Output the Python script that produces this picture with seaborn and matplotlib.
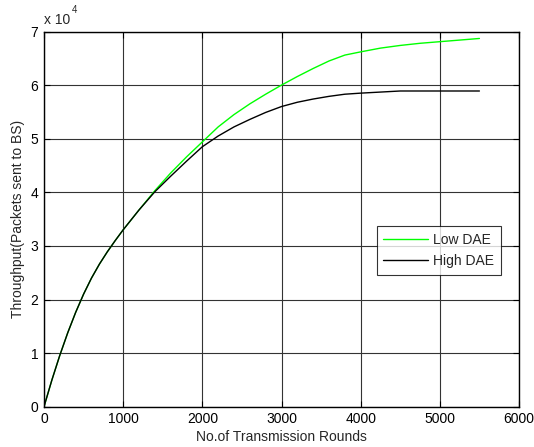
import matplotlib
matplotlib.use("Agg")
import matplotlib.pyplot as plt
import seaborn as sns
import pandas as pd

# Data (throughput in units of 10^4 packets)
rounds = [0, 100, 200, 300, 400, 500, 600, 700, 800, 900, 1000, 1200, 1400,
          1600, 1800, 2000, 2200, 2400, 2600, 2800, 3000, 3200, 3400, 3600,
          3800, 4000, 4250, 4500, 4750, 5000, 5250, 5500]
low_dae = [0, 0.50, 0.96, 1.38, 1.76, 2.10, 2.40, 2.66, 2.89, 3.10, 3.30, 3.67, 4.03,
           4.36, 4.66, 4.94, 5.22, 5.45, 5.65, 5.83, 6.00, 6.16, 6.31, 6.45,
           6.56, 6.62, 6.69, 6.74, 6.78, 6.81, 6.84, 6.87]
high_dae = [0, 0.50, 0.96, 1.38, 1.76, 2.10, 2.40, 2.66, 2.89, 3.10, 3.30, 3.67, 4.01,
            4.30, 4.58, 4.85, 5.05, 5.22, 5.36, 5.49, 5.60, 5.68, 5.74, 5.79,
            5.83, 5.85, 5.87, 5.89, 5.89, 5.89, 5.89, 5.89]
series_names = ["Low DAE", "High DAE"]
x_ticks = [0, 1000, 2000, 3000, 4000, 5000, 6000]
y_ticks = [0, 1, 2, 3, 4, 5, 6, 7]

df = pd.concat([
    pd.DataFrame({"Rounds": rounds, "Throughput": low_dae, "Series": series_names[0]}),
    pd.DataFrame({"Rounds": rounds, "Throughput": high_dae, "Series": series_names[1]}),
])

sns.set_style("white")
plt.rcParams["font.family"] = ["Liberation Sans", "DejaVu Sans"]

fig = plt.figure(figsize=(5.34, 4.47), dpi=100)
ax = fig.add_axes([44 / 534, 1 - 406.7 / 447, 475 / 534, 375.2 / 447])

sns.lineplot(data=df, x="Rounds", y="Throughput", hue="Series",
             palette={"Low DAE": "#00ff00", "High DAE": "#000000"},
             hue_order=series_names, linewidth=1.0, ax=ax, legend=True)

ax.set_xlim(0, 6000)
ax.set_ylim(0, 7)
ax.set_xticks(x_ticks)
ax.set_yticks(y_ticks)
ax.set_xticklabels([str(t) for t in x_ticks], fontsize=10)
ax.set_yticklabels([str(t) for t in y_ticks], fontsize=10)
ax.grid(True, color="#333333", linewidth=0.8)
ax.set_axisbelow(True)
for s in ax.spines.values():
    s.set_visible(True)
    s.set_color("black")
    s.set_linewidth(1.0)
ax.tick_params(direction="in", length=4, width=0.8, top=True, right=True,
               bottom=True, left=True, pad=4, colors="black")
ax.set_xlabel("No.of Transmission Rounds", fontsize=10, labelpad=3)
ax.set_ylabel("Throughput(Packets sent to BS)", fontsize=10, labelpad=4)

ax.text(0.0, 1.012, "x 10", transform=ax.transAxes, fontsize=10, ha="left", va="bottom")
ax.text(0.058, 1.045, "4", transform=ax.transAxes, fontsize=7, ha="left", va="bottom")

leg = ax.legend(loc="upper left", bbox_to_anchor=(0.700, 0.4816), borderaxespad=0,
                fontsize=10, frameon=True, fancybox=False, edgecolor="black",
                handlelength=3.2, handletextpad=0.4, borderpad=0.5, labelspacing=0.5)
leg.get_frame().set_linewidth(0.8)
leg.set_title(None)

fig.savefig("out.png", dpi=100, facecolor="white")
